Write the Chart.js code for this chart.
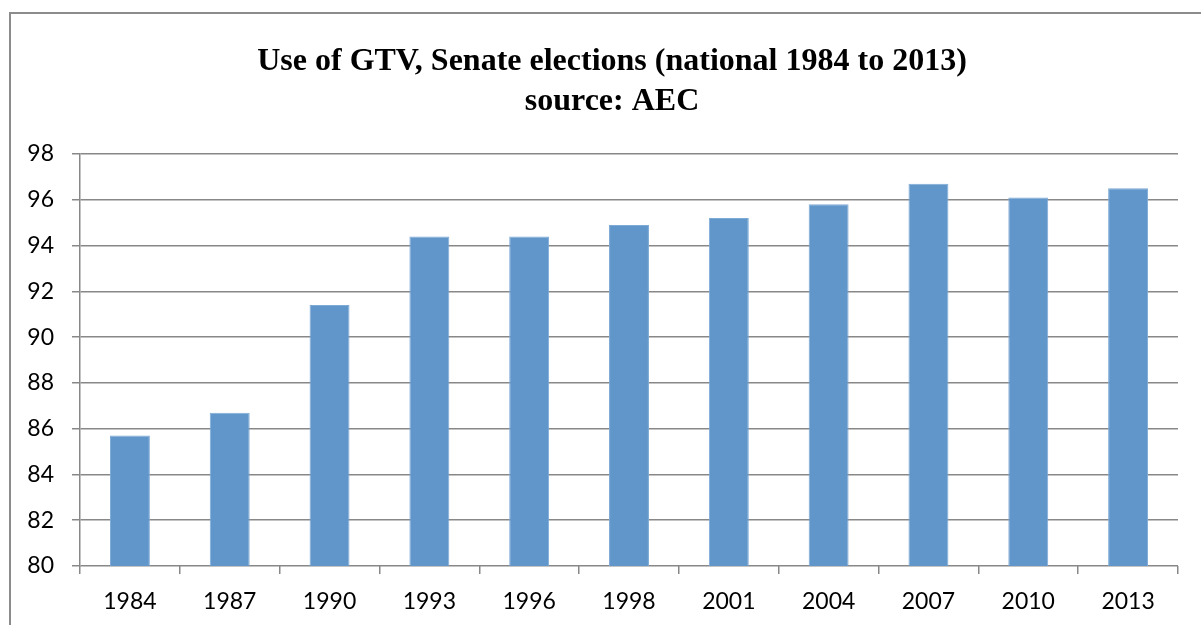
<!DOCTYPE html>
<html>
<head>
<meta charset="utf-8">
<title>Use of GTV, Senate elections</title>
<script src="https://cdn.jsdelivr.net/npm/chart.js@4/dist/chart.umd.min.js"></script>
<style>
  html, body { margin: 0; padding: 0; background: #fff; }
  #wrap { width: 1201px; height: 625px; position: relative; }
</style>
</head>
<body>
<div id="wrap"><canvas id="gtvChart" width="1201" height="625"></canvas></div>
<script>
// --- data ---
const years = ["1984", "1987", "1990", "1993", "1996", "1998", "2001", "2004", "2007", "2010", "2013"];
const gtvShare = [85.7, 86.7, 91.4, 94.4, 94.4, 94.9, 95.2, 95.8, 96.7, 96.1, 96.5];
const titleLines = ["Use of GTV, Senate elections (national 1984 to 2013)", "source: AEC"];
const yMin = 80, yMax = 98, yStep = 2;

const gridGrey = "#888888";
const barBlue = "#6096ca";

// outer frame of the chart object (runs off right/bottom edge like the source)
const framePlugin = {
    id: "frame",
    beforeDraw(chart) {
        const ctx = chart.ctx;
        ctx.save();
        ctx.strokeStyle = "#8c8c8c";
        ctx.lineWidth = 2;
        ctx.strokeRect(10, 13, chart.width + 20, chart.height + 20);
        ctx.restore();
    }
};

const ctx = document.getElementById("gtvChart").getContext("2d");
new Chart(ctx, {
    type: "bar",
    data: {
        labels: years,
        datasets: [{
            data: gtvShare,
            backgroundColor: barBlue,
            borderColor: "#7eaad6",
            borderWidth: { left: 1, right: 1, top: 1, bottom: 0 },
            categoryPercentage: 1,
            barPercentage: 0.4
        }]
    },
    options: {
        responsive: false,
        animation: false,
        // left padding + blank right axis keep the title centred where the source has it
        layout: { padding: { left: 23, right: 0, top: 0, bottom: 0 } },
        plugins: {
            legend: { display: false },
            tooltip: { enabled: false },
            title: {
                display: true,
                text: titleLines,
                color: "#000",
                font: { family: "'Liberation Serif', 'Times New Roman', serif", size: 32, weight: "bold", lineHeight: 1.25 },
                padding: { top: 42, bottom: 32 }
            }
        },
        scales: {
            x: {
                grid: { display: true, offset: true, drawOnChartArea: false, drawTicks: true, tickLength: 8, color: gridGrey, lineWidth: 1.5 },
                border: { display: false },
                ticks: { color: "#000", font: { family: "Lato, 'Noto Sans', sans-serif", size: 23 }, padding: 14, maxRotation: 0 },
                afterFit(scale) { scale.height = 59; }
            },
            y: {
                min: yMin,
                max: yMax,
                ticks: { stepSize: yStep, color: "#000", font: { family: "Lato, 'Noto Sans', sans-serif", size: 23 }, padding: 18 },
                grid: { color: gridGrey, lineWidth: 1.5, tickLength: 8 },
                border: { display: true, color: gridGrey, width: 1.5 },
                afterFit(scale) { scale.width = 57; }
            },
            // empty spacer on the right
            yRight: {
                position: "right",
                min: yMin,
                max: yMax,
                grid: { display: false },
                border: { display: false },
                ticks: { display: false },
                afterFit(scale) { scale.width = 23; }
            }
        }
    },
    plugins: [framePlugin]
});
</script>
</body>
</html>
